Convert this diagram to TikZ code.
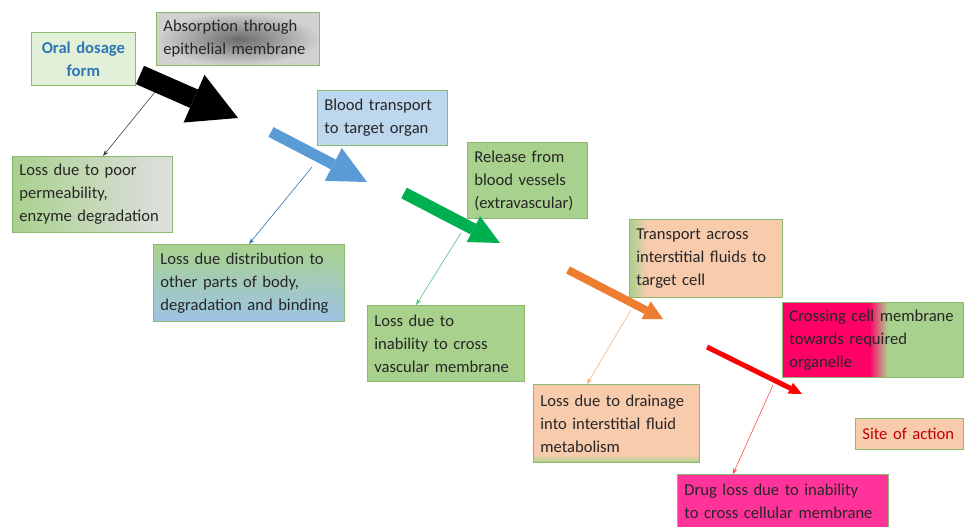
\documentclass[tikz,border=0pt]{standalone}
\usepackage{fontspec}
\setmainfont{Carlito}
\usetikzlibrary{arrows.meta}
\hyphenpenalty=10000
\exhyphenpenalty=10000
\definecolor{boxline}{HTML}{8DB96E}
\definecolor{ink}{HTML}{262626}
\definecolor{palegreen}{HTML}{E2F0D9}
\definecolor{leafgreen}{HTML}{A9D18E}
\definecolor{skyblue}{HTML}{BDD7EE}
\definecolor{deepsky}{HTML}{9DC3E6}
\definecolor{peach}{HTML}{F8CBAD}
\definecolor{magenta}{HTML}{FF0066}
\definecolor{hotpink}{HTML}{FF3399}
\definecolor{titleblue}{HTML}{2E75B6}
\definecolor{sitered}{HTML}{C00000}
\definecolor{arrblue}{HTML}{5B9BD5}
\definecolor{arrgreen}{HTML}{00B050}
\definecolor{arrorange}{HTML}{ED7D31}
\definecolor{arrred}{HTML}{FF0000}
\pgfdeclarehorizontalshading{greenpeach}{100bp}{color(0bp)=(leafgreen); color(25bp)=(leafgreen); color(31bp)=(peach); color(100bp)=(peach)}
\pgfdeclarehorizontalshading{pinkgreen}{100bp}{color(0bp)=(magenta); color(49bp)=(magenta); color(54bp)=(leafgreen); color(100bp)=(leafgreen)}
\pgfdeclareverticalshading{peachgreen}{100bp}{color(0bp)=(leafgreen); color(25bp)=(leafgreen); color(30bp)=(peach); color(100bp)=(peach)}

\begin{document}
\begin{tikzpicture}[x=1pt,y=-1pt,
  box/.style={draw=boxline, line width=0.8pt, anchor=north west, inner xsep=7pt,
    inner ysep=0pt, align=left, text=ink, font=\fontsize{16.6}{23}\selectfont},
  loss/.style={-{Stealth[length=6pt,width=4.5pt]}, line width=0.6pt},
  pipe/.style={line width=#1, line cap=butt}]
 \useasboundingbox (0,0) rectangle (964,527);

 \node[box, fill=palegreen, minimum width=104pt, minimum height=53pt, text width=90pt,
   align=center, text=titleblue, font=\fontsize{16.6}{23}\selectfont\bfseries] (oral) at (31,32) {Oral~dosage\\form};
 \node[box, inner color=black!58, outer color=black!18, minimum width=163pt, minimum height=53pt,
   text width=149pt] (absorb) at (156,12) {Absorption~through\\epithelial~membrane};
 \node[box, left color=leafgreen, right color=gray!25, minimum width=160pt, minimum height=76pt,
   text width=146pt] (lpoor) at (12,156) {Loss~due~to~poor\\permeability,\\enzyme~degradation};
 \node[box, fill=skyblue, minimum width=130pt, minimum height=55pt, text width=116pt] (blood) at (317,90) {Blood~transport\\to~target~organ};
 \node[box, top color=leafgreen, bottom color=deepsky, minimum width=191pt, minimum height=77pt,
   text width=177pt] (ldist) at (153,244) {Loss~due~distribution~to\\other~parts~of~body,\\degradation~and~binding};
 \node[box, fill=leafgreen, minimum width=120pt, minimum height=76pt, text width=106pt] (release) at (467,142) {Release~from\\blood~vessels\\(extravascular)};
 \node[box, fill=leafgreen, minimum width=157pt, minimum height=76pt, text width=143pt] (lvasc) at (367,305) {Loss~due~to\\inability~to~cross\\vascular~membrane};
 \node[box, shade, shading=greenpeach, minimum width=153pt, minimum height=78pt, text width=139pt] (transp) at (629,219) {Transport~across\\interstitial~fluids~to\\target~cell};
 \node[box, shade, shading=peachgreen, minimum width=166pt, minimum height=78pt, text width=152pt] (ldrain) at (533,384) {Loss~due~to~drainage\\into~interstitial~fluid\\metabolism};
 \node[box, shade, shading=pinkgreen, minimum width=181pt, minimum height=75pt, text width=167pt] (cross) at (782,302) {Crossing~cell~membrane\\towards~required\\organelle};
 \node[box, fill=peach, minimum width=108pt, minimum height=31pt, text width=94pt, text=sitered] (site) at (855,418) {Site~of~action};
 \node[box, fill=hotpink, minimum width=211pt, minimum height=54pt, text width=197pt] (ldrug) at (677,474) {Drug~loss~due~to~inability\\to~cross~cellular~membrane};

 \coordinate (k1) at (140,75);  \coordinate (k2) at (238,118);
 \coordinate (b1) at (271,132); \coordinate (b2) at (367,182);
 \coordinate (g1) at (404,193); \coordinate (g2) at (500,243);
 \coordinate (o1) at (568,270); \coordinate (o2) at (663,319);
 \coordinate (r1) at (707,347); \coordinate (r2) at (802,394);
 \draw[pipe=20pt, black, -{Triangle[length=48pt,width=52pt,line width=0pt]}] (k1) -- (k2);
 \draw[pipe=11pt, arrblue, -{Triangle[length=38pt,width=37pt,line width=0pt]}] (b1) -- (b2);
 \draw[pipe=12pt, arrgreen, -{Triangle[length=30pt,width=29pt,line width=0pt]}] (g1) -- (g2);
 \draw[pipe=8pt, arrorange, -{Triangle[length=19pt,width=20pt,line width=0pt]}] (o1) -- (o2);
 \draw[pipe=5pt, arrred, -{Triangle[length=13pt,width=12pt,line width=0pt]}] (r1) -- (r2);

 \coordinate (s1) at (155,92);
 \coordinate (s2) at (312,167);
 \coordinate (s3) at (461,233);
 \coordinate (s4) at (631,310);
 \coordinate (s5) at (773,385);
 \draw[loss, black!75] (s1) -- ([xshift=91pt]lpoor.north west);
 \draw[loss, titleblue] (s2) -- ([xshift=96pt]ldist.north west);
 \draw[loss, arrgreen!70] (s3) -- ([xshift=49pt]lvasc.north west);
 \draw[loss, arrorange!60] (s4) -- ([xshift=54pt]ldrain.north west);
 \draw[loss, arrred!70] (s5) -- ([xshift=56pt]ldrug.north west);
\end{tikzpicture}
\end{document}
